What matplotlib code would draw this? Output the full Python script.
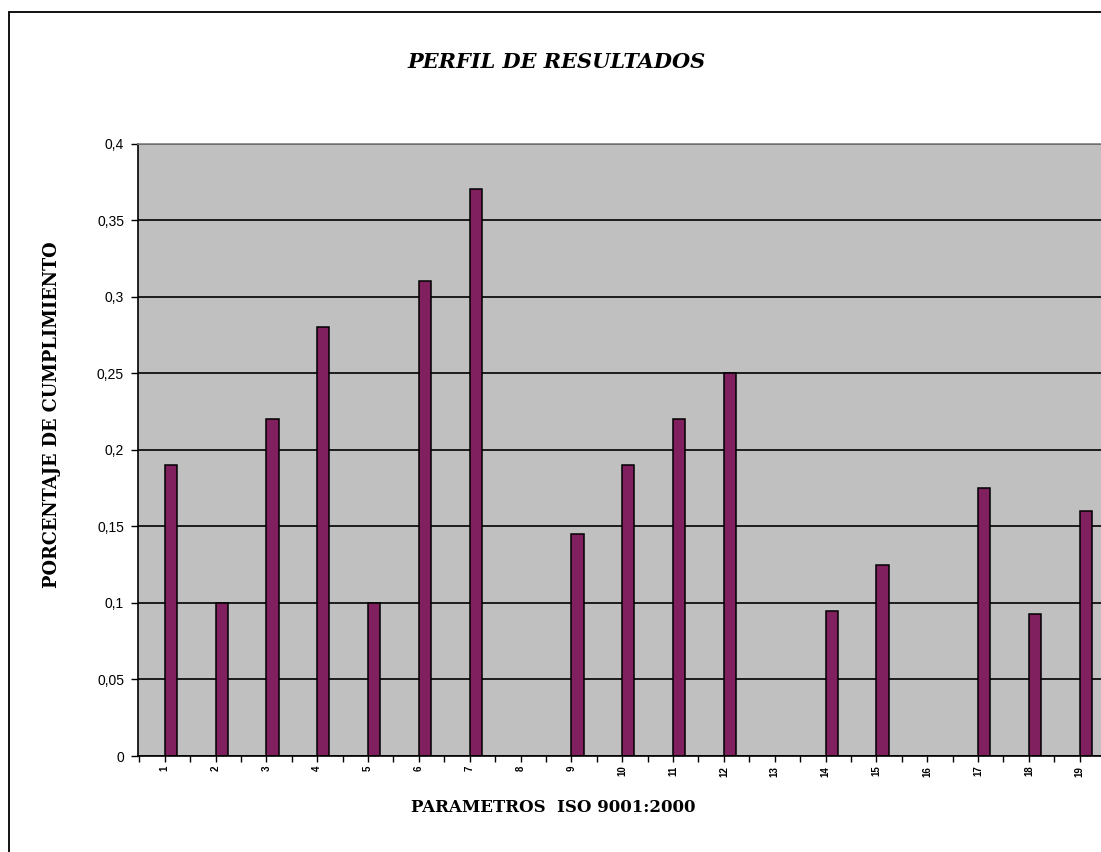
import matplotlib
matplotlib.use("Agg")
import matplotlib.pyplot as plt
from matplotlib.patches import Rectangle
from matplotlib.ticker import FixedLocator, FuncFormatter

# Data: compliance per ISO 9001:2000 parameter
parametros = list(range(1, 20))
cumplimiento = [0.19, 0.10, 0.22, 0.28, 0.10, 0.31, 0.37, 0.0, 0.145, 0.19,
                0.22, 0.25, 0.0, 0.095, 0.125, 0.0, 0.175, 0.093, 0.16]

titulo = "PERFIL DE RESULTADOS"
etiqueta_x = "PARAMETROS  ISO 9001:2000"
etiqueta_y = "PORCENTAJE DE CUMPLIMIENTO"

W, H = 1101, 852
fig = plt.figure(figsize=(W / 100, H / 100), dpi=100)

# outer chart frame (runs off the right/bottom edges)
fig.patches.append(Rectangle((9 / W, -0.1), 1.2, (H - 12) / H + 0.1,
                             transform=fig.transFigure, fill=False,
                             edgecolor="black", linewidth=1.3))

ax = fig.add_axes([138 / W, 96 / H, 1 - 138 / W + 0.001, (756 - 143.5) / H])
ax.set_facecolor("#C0C0C0")

ax.bar(parametros, cumplimiento, width=0.24, align="edge",
       color="#80205F", edgecolor="black", linewidth=1.1, zorder=2)

ax.set_xlim(0.475, 19.44)
ax.set_ylim(0, 0.4)

# y axis
ax.set_yticks([i * 0.05 for i in range(9)])
ax.yaxis.set_major_formatter(FuncFormatter(lambda v, p: f"{v:.2f}".rstrip("0").rstrip(".").replace(".", ",")))
ax.tick_params(axis="y", direction="out", length=5, width=1, pad=5,
               labelsize=10, colors="black")
for t in ax.get_yticklabels():
    t.set_family("Liberation Sans")

# x axis: labels under each bar, extra tick marks between categories
ax.set_xticks(parametros)
ax.set_xticklabels([str(p) for p in parametros], rotation=90,
                   fontsize=7, fontweight="bold", family="Liberation Sans")
ax.xaxis.set_minor_locator(FixedLocator([p - 0.5 for p in parametros] + [19.5]))
ax.tick_params(axis="x", which="both", direction="out", length=4, width=1, pad=3)

ax.set_axisbelow(True)
ax.yaxis.grid(True, color="black", linewidth=1.2)
ax.xaxis.grid(False)

ax.spines["left"].set_linewidth(1.2)
ax.spines["bottom"].set_linewidth(1.2)
ax.spines["top"].set_color("#808080")
ax.spines["top"].set_linewidth(1.2)
ax.spines["right"].set_visible(False)

fig.text(557 / W, 1 - 62 / H, titulo, ha="center", va="center",
         family="DejaVu Serif", fontweight="bold", style="italic", fontsize=15)
fig.text(553 / W, 1 - 808 / H, etiqueta_x, ha="center", va="center",
         family="DejaVu Serif", fontweight="bold", fontsize=12)
fig.text(52 / W, 1 - 415 / H, etiqueta_y, ha="center", va="center", rotation=90,
         family="DejaVu Serif", fontweight="bold", fontsize=12.8)

fig.savefig("out.png", dpi=100)
